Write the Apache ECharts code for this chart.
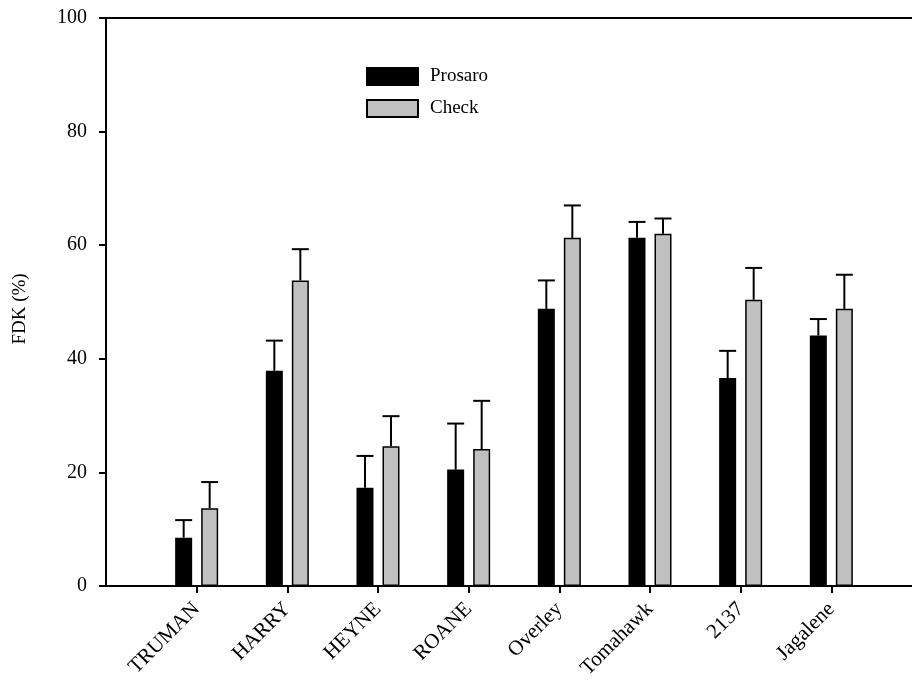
<!DOCTYPE html>
<html>
<head>
<meta charset="utf-8">
<script src="https://cdn.jsdelivr.net/npm/echarts@6/dist/echarts.min.js"></script>
<style>html,body{margin:0;padding:0;background:#fff}#c{width:912px;height:683px}</style>
</head>
<body>
<div id="c"></div>
<script>
const categories = ['TRUMAN','HARRY','HEYNE','ROANE','Overley','Tomahawk','2137','Jagalene'];
const prosaro = [8.5, 37.9, 17.3, 20.5, 48.8, 61.3, 36.6, 44.1];
const prosaroErr = [11.6, 43.2, 22.9, 28.6, 53.8, 64.1, 41.4, 47.0];
const check = [13.7, 53.8, 24.6, 24.1, 61.3, 62.0, 50.4, 48.8];
const checkErr = [18.3, 59.3, 29.9, 32.6, 67.0, 64.7, 56.0, 54.8];
const yTicks = [0, 20, 40, 60, 80, 100];

const axisCats = [''].concat(categories, ['']);
const pad = arr => [null].concat(arr, [null]);
const FONT = '"Liberation Serif", "Times New Roman", serif';

function errSeries(vals, tops, offset) {
  const data = [];
  vals.forEach((v, i) => data.push([i + 1, v, tops[i]]));
  return {
    type: 'custom',
    silent: true,
    z: 1,
    data: data,
    renderItem: function (params, api) {
      const base = api.coord([api.value(0), api.value(1)]);
      const top = api.coord([api.value(0), api.value(2)]);
      const x = base[0] + offset;
      const half = 8.5;
      return {
        type: 'group',
        children: [
          {type: 'line', shape: {x1: x, y1: base[1], x2: x, y2: top[1]}, style: {stroke: '#000', lineWidth: 2}},
          {type: 'line', shape: {x1: x - half, y1: top[1], x2: x + half, y2: top[1]}, style: {stroke: '#000', lineWidth: 2}}
        ]
      };
    }
  };
}

const chart = echarts.init(document.getElementById('c'), null, {renderer: 'canvas'});
chart.setOption({
  animation: false,
  backgroundColor: '#fff',
  grid: {left: 106, top: 18, width: 816, height: 568, show: true, borderColor: '#000', borderWidth: 2,
    containLabel: false, outerBoundsMode: 'none'},
  legend: {
    orient: 'vertical', left: 361, top: 62, itemWidth: 51, itemHeight: 17, itemGap: 13,
    textStyle: {fontFamily: FONT, fontSize: 19, color: '#000', padding: [0, 0, 0, 7]},
    icon: 'rect',
    data: ['Prosaro', 'Check']
  },
  xAxis: {
    type: 'category', data: axisCats, boundaryGap: false,
    axisLine: {lineStyle: {color: '#000', width: 2}},
    axisTick: {length: 7, lineStyle: {color: '#000', width: 2}, interval: (i) => i > 0 && i < axisCats.length - 1},
    axisLabel: {rotate: 45, fontFamily: FONT, fontSize: 21, color: '#000', margin: 20, interval: 0},
    splitLine: {show: false}
  },
  yAxis: {
    type: 'value', min: 0, max: 100, interval: 20,
    name: 'FDK (%)', nameLocation: 'middle', nameGap: 76, nameRotate: 90,
    nameTextStyle: {fontFamily: FONT, fontSize: 19, color: '#000', padding: [0, 14, 0, 0]},
    axisLine: {show: true, lineStyle: {color: '#000', width: 2}},
    axisTick: {show: true, length: 7, lineStyle: {color: '#000', width: 2}},
    axisLabel: {fontFamily: FONT, fontSize: 20, color: '#000', margin: 19,
      formatter: v => yTicks.includes(v) ? String(v) : ''},
    splitLine: {show: false}
  },
  series: [
    {name: 'Prosaro', type: 'bar', data: pad(prosaro), barWidth: 17, barGap: '53%', z: 2,
      itemStyle: {color: '#000', borderColor: '#000', borderWidth: 1.5}},
    {name: 'Check', type: 'bar', data: pad(check), barWidth: 17, z: 2,
      itemStyle: {color: '#c0c0c0', borderColor: '#000', borderWidth: 1.5}},
    errSeries(prosaro, prosaroErr, -13),
    errSeries(check, checkErr, 13)
  ]
});
</script>
</body>
</html>
